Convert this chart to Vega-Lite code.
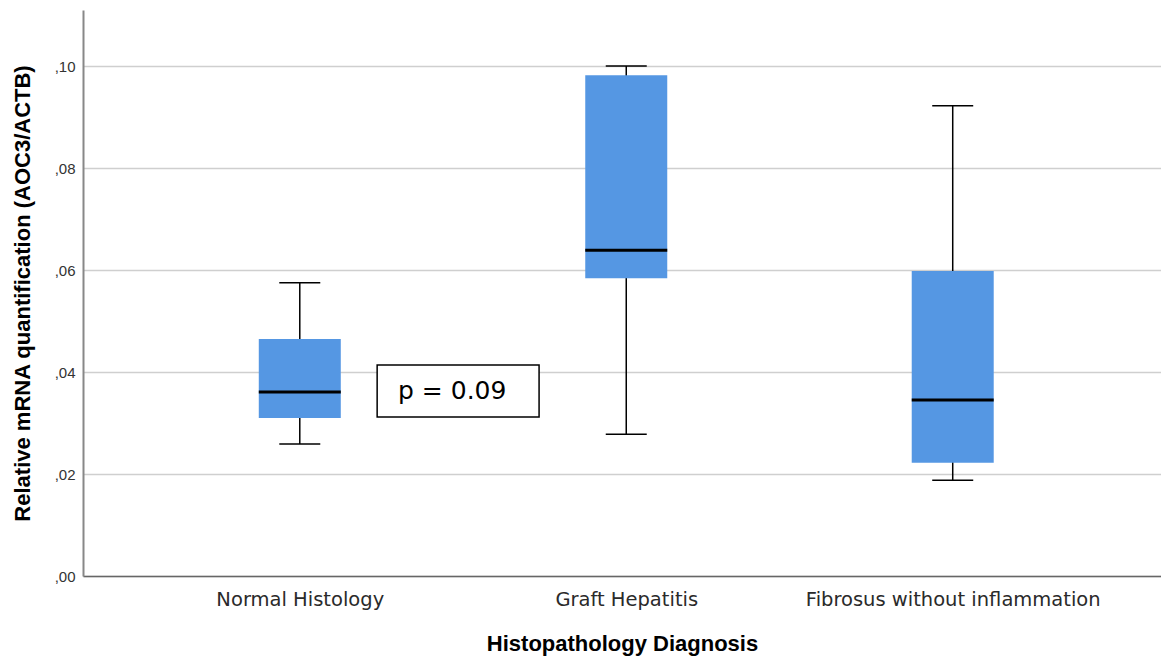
{
  "$schema": "https://vega.github.io/schema/vega-lite/v6.json",
  "autosize": {"type": "none"},
  "padding": {"left": 83, "top": 10, "right": 0, "bottom": 81},
  "width": 1078,
  "height": 566,
  "background": "white",
  "config": {
    "font": "Liberation Sans",
    "view": {"stroke": null}
  },
  "layer": [
    {
      "data": {"name": "boxes", "values": [
        {"group": "Normal Histology", "lo": 0.0259, "q1": 0.0310, "median": 0.0361, "q3": 0.0465, "hi": 0.0575},
        {"group": "Graft Hepatitis", "lo": 0.0278, "q1": 0.0584, "median": 0.0639, "q3": 0.0982, "hi": 0.1000},
        {"group": "Fibrosus without inflammation", "lo": 0.0188, "q1": 0.0222, "median": 0.0345, "q3": 0.0598, "hi": 0.0922}
      ]},
      "encoding": {
        "x": {
          "field": "group", "type": "nominal", "sort": null,
          "scale": {"type": "point", "padding": 0.651, "align": 0.51},
          "axis": {
            "title": "Histopathology Diagnosis",
            "titleFontSize": 22, "titleFontWeight": "bold", "titleColor": "#000", "titlePadding": 25,
            "labelFont": "DejaVu Sans", "labelFontSize": 19.5, "labelColor": "#2a2a2a", "labelPadding": 14, "labelAngle": 0, "labelLimit": 0,
            "ticks": false, "grid": false,
            "domainColor": "#666", "domainWidth": 1.5
          }
        }
      },
      "layer": [
        {
          "mark": {"type": "rule", "color": "#000", "strokeWidth": 1.5},
          "encoding": {
            "y": {
              "field": "lo", "type": "quantitative",
              "scale": {"domain": [0, 0.111], "nice": false, "zero": true},
              "axis": {
                "title": "Relative mRNA quantification (AOC3/ACTB)",
                "titleFontSize": 22, "titleFontWeight": "bold", "titleColor": "#000", "titlePadding": 20,
                "values": [0, 0.02, 0.04, 0.06, 0.08, 0.1],
                "labelExpr": "replace(format(datum.value, '.2f'), '0.', ',')",
                "labelFontSize": 15, "labelColor": "#333", "labelPadding": 8,
                "ticks": false,
                "grid": true, "gridColor": "#cfcfcf", "gridWidth": 1.5,
                "domainColor": "#888", "domainWidth": 2
              }
            },
            "y2": {"field": "hi"}
          }
        },
        {
          "mark": {"type": "bar", "color": "#5597E3", "size": 82},
          "encoding": {
            "y": {"field": "q1", "type": "quantitative"},
            "y2": {"field": "q3"}
          }
        },
        {
          "mark": {"type": "tick", "color": "#000", "size": 82, "thickness": 3, "opacity": 1},
          "encoding": {"y": {"field": "median", "type": "quantitative"}}
        },
        {
          "mark": {"type": "tick", "color": "#000", "size": 41, "thickness": 1.5, "opacity": 1},
          "encoding": {"y": {"field": "lo", "type": "quantitative"}}
        },
        {
          "mark": {"type": "tick", "color": "#000", "size": 41, "thickness": 1.5, "opacity": 1},
          "encoding": {"y": {"field": "hi", "type": "quantitative"}}
        }
      ]
    },
    {
      "data": {"name": "note", "values": [
        {"x1": 0.236, "x2": 0.732, "tx": 0.300, "y1": 0.0312, "y2": 0.0414, "ty": 0.0363, "label": "p = 0.09"}
      ]},
      "layer": [
        {
          "mark": {"type": "rect", "fill": "white", "stroke": "#000", "strokeWidth": 1.5},
          "encoding": {
            "x": {"field": "x1", "type": "quantitative", "scale": {"domain": [-0.665, 2.637], "nice": false, "zero": false}, "axis": null},
            "x2": {"field": "x2"},
            "y": {"field": "y1", "type": "quantitative"},
            "y2": {"field": "y2"}
          }
        },
        {
          "mark": {"type": "text", "align": "left", "baseline": "middle", "font": "DejaVu Sans", "fontSize": 25, "color": "#000"},
          "encoding": {
            "x": {"field": "tx", "type": "quantitative", "scale": {"domain": [-0.665, 2.637], "nice": false, "zero": false}, "axis": null},
            "y": {"field": "ty", "type": "quantitative"},
            "text": {"field": "label"}
          }
        }
      ]
    }
  ],
  "resolve": {"scale": {"x": "independent"}, "axis": {"x": "independent"}}
}
